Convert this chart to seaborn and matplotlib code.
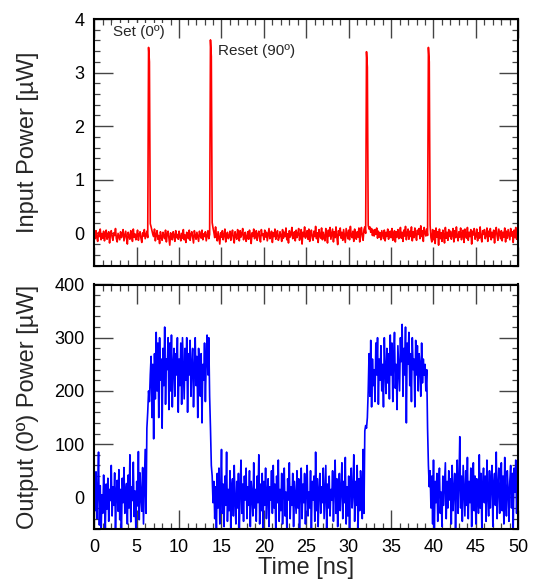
import numpy as np
import pandas as pd
import matplotlib
matplotlib.use("Agg")
import matplotlib.pyplot as plt
import seaborn as sns
from matplotlib.ticker import MultipleLocator

# ---------------- data (0.1 ns sampling) ----------------
t_start, t_stop, t_step = 0.0, 50.0, 0.1

input_power_uW = [
    -.02, -.10, .05, -.08, -.15, .02, -.06, .08, -.12, -.01,
    -.09, .04, -.14, -.03, .06, -.11, -.05, .03, -.18, -.02,
    .05, -.07, -.13, .01, -.04, .09, -.10, -.16, .00, -.06,
    -.12, .03, -.08, -.02, .07, -.14, -.05, .04, -.09, -.20,
    .02, -.06, -.11, .05, -.03, -.15, .08, -.07, -.01, -.12,
    -.04, .06, -.13, -.02, .03, -.09, -.17, .01, -.05, .07,
    -.10, -.03, .04, -.08, 3.47, 3.2, .18, .12, .05, -.02,
    -.06, .08, -.14, -.02, .05, -.11, -.04, -.19, .03, -.08,
    -.13, .02, -.05, -.10, .06, -.16, -.01, .04, -.09, -.22,
    .01, -.07, -.12, .03, -.04, -.15, .05, -.08, -.02, -.11,
    .04, -.06, -.14, .00, -.09, .07, -.12, -.03, -.17, .02,
    -.05, -.10, .06, -.13, -.02, .03, -.08, -.18, .05, -.04,
    -.11, .02, -.07, -.15, .04, -.03, -.09, .06, -.12, -.01,
    -.06, .03, -.14, -.04, .05, -.10, -.02, 3.61, 3.3, .20,
    .10, .02, -.08, .12, -.05, -.14, .03, -.09, -.20, .01,
    -.07, .05, -.12, -.03, .08, -.16, -.04, .02, -.10, -.06,
    .04, -.13, -.01, .06, -.09, -.18, .03, -.05, -.11, .07,
    -.02, -.14, .05, -.07, -.01, .09, -.12, -.04, .02, -.15,
    -.08, .03, -.11, .06, -.05, -.19, .01, -.06, .08, -.10,
    -.03, .05, -.13, -.02, .04, -.09, -.16, .07, -.04, -.01,
    -.12, .06, -.07, .02, -.14, -.03, .09, -.10, -.05, .04,
    -.17, .01, -.06, .08, -.11, -.02, .05, -.13, -.08, .03,
    -.04, -.15, .07, -.09, .02, -.06, .10, -.12, -.01, -.18,
    .05, -.07, -.02, .11, -.10, -.05, .03, -.14, .06, -.08,
    -.01, .09, -.13, -.04, .07, -.20, .02, -.06, .12, -.09,
    -.03, .05, -.11, .08, -.15, -.02, .06, -.08, -.13, .04,
    -.06, .13, -.10, .01, -.17, .07, -.04, -.09, .10, -.12,
    .02, -.07, -.14, .09, -.03, -.18, .06, -.05, .11, -.11,
    -.02, .08, -.16, .03, -.08, .12, -.06, -.21, .05, -.04,
    .10, -.09, .02, -.13, .07, -.05, -.17, .09, -.01, -.10,
    .06, -.12, .13, -.04, -.08, .04, -.15, .08, -.03, -.11,
    .03, -.07, .10, -.16, .01, .11, -.06, -.13, .07, .12,
    .00, 3.39, 3.1, .15, .08, .12, .02, .09, -.04, .06,
    -.05, .07, -.02, .10, -.09, .04, -.07, .01, -.12, .05,
    -.03, -.10, .06, -.14, .02, -.06, .08, -.11, -.02, .04,
    -.08, .09, -.13, -.01, .05, -.16, .03, -.07, .07, -.10,
    -.04, .11, -.09, .02, -.15, .06, -.05, .13, -.12, .00,
    .08, -.11, .04, -.06, .12, -.14, .03, -.08, .10, -.03,
    -.13, .06, -.02, .09, -.10, .14, -.06, .05, -.15, .11,
    .02, -.05, .08, -.04, 3.47, 3.2, .15, -.08, -.16, .07,
    -.12, .05, -.19, .10, -.07, .03, -.22, .08, -.10, .01,
    -.15, .06, -.04, -.18, .11, -.09, .02, -.13, .07, -.06,
    .04, -.11, -.02, .09, -.16, .05, -.08, .12, -.05, -.14,
    .03, -.07, .10, -.12, -.01, .06, -.17, .08, -.04, -.09,
    .11, -.13, .02, -.06, .07, -.20, .04, -.03, .09, -.11,
    -.05, .08, -.14, .01, -.09, .12, -.07, -.16, .05, -.02,
    .07, -.10, -.03, .10, -.15, .04, -.06, .09, -.12, .02,
    -.08, .06, -.18, .03, .11, -.05, -.13, .08, -.01, -.10,
    .05, -.14, .02, -.07, .10, -.16, .04, -.09, .07, -.03,
    -.12, .09, -.05, .03, -.17, .06, -.08, .11, -.11, .02,
    -.04,
]

output_power_uW = [
    30, -25, 48, -40, 12, 85, -52, 22, -68, 5,
    -30, 42, -12, -58, 25, -22, 36, -45, 15, -6,
    60, -35, 20, -15, 46, -62, 10, 32, -26, 52,
    -42, 15, -70, 36, -10, 56, -30, 6, 26, -50,
    42, -20, 80, -46, 20, -6, 66, -36, 12, -62,
    30, -16, 86, -42, 46, 0, -26, 56, -50, 20,
    90, -30, 130, 160, 200, 180, 230, 265, 150, 250,
    110, 270, 185, 310, 200, 290, 150, 300, 220, 260,
    130, 280, 210, 320, 175, 260, 240, 300, 165, 290,
    200, 305, 170, 250, 280, 190, 270, 230, 300, 160,
    260, 210, 290, 175, 300, 240, 185, 280, 220, 300,
    160, 270, 230, 295, 190, 250, 280, 170, 240, 300,
    210, 265, 150, 280, 230, 190, 270, 140, 250, 220,
    290, 180, 260, 305, 230, 300, 190, 130, 60, 40,
    -10, 30, -40, 20, -65, 45, -20, 55, -50, 10,
    90, -30, 25, -55, 40, -15, 85, -45, 15, -25,
    50, -60, 20, 35, -35, 60, -10, -50, 30, -20,
    45, -65, 15, 70, -30, 25, -45, 40, -5, 55,
    -40, 20, -15, 50, -55, 30, 5, -35, 65, -20,
    15, -45, 40, -10, 80, -50, 25, -25, 45, -60,
    30, -15, 55, -40, 10, 35, -55, 20, -5, 50,
    -30, 60, -20, 25, -65, 40, -10, 70, -45, 15,
    -25, 45, -50, 20, 55, -35, 10, -60, 35, -5,
    65, -40, 20, -15, 45, -55, 30, 0, -30, 50,
    -20, 35, -60, 15, 55, -40, 25, -10, 45, -50,
    20, 60, -35, 10, -20, 50, -65, 30, -5, 40,
    -45, 85, -25, 35, -55, 15, 45, -30, 20, -10,
    55, -40, 10, 60, -60, 25, -20, 40, -35, 15,
    -5, 50, -45, 20, 70, -30, 35, -55, 10, 45,
    -25, 15, 65, -40, 30, -10, 75, -50, 20, -35,
    40, -60, 25, 55, -20, 10, 80, -45, 30, -15,
    60, -70, 35, -25, 50, 10, -40, 90, -30, 125,
    135, 130, 150, 200, 270, 190, 295, 170, 260, 210,
    240, 180, 290, 230, 300, 175, 260, 220, 285, 200,
    250, 170, 300, 240, 195, 280, 215, 270, 185, 305,
    230, 290, 180, 260, 310, 205, 250, 165, 285, 240,
    200, 300, 255, 325, 190, 280, 230, 320, 140, 290,
    250, 310, 210, 270, 180, 300, 240, 260, 170, 295,
    230, 285, 200, 270, 250, 190, 290, 215, 260, 230,
    250, 200, 240, 130, 60, 20, 50, -20, 40, -50,
    70, -60, 30, -10, 45, -45, 20, 55, -30, 10,
    -55, 40, -15, 25, 65, -40, 30, -20, 50, -5,
    35, -50, 60, -25, 15, 45, -60, 20, 70, -30,
    25, 114, -20, 40, -45, 60, 10, -35, 50, -15,
    75, -40, 30, -10, 55, -55, 20, 65, -25, 40,
    -50, 35, 15, -30, 80, -20, 45, -60, 25, 55,
    -10, 40, -45, 70, 5, -35, 50, -20, 30, 60,
    -55, 25, 45, -15, 85, -40, 20, 55, -30, 10,
    65, -25, 40, -50, 75, 0, -35, 50, 15, -45,
    30, 60, -20, 45, -60, 55, 10, 70, -30, 40,
    65,
]

x_ticks = [0, 5, 10, 15, 20, 25, 30, 35, 40, 45, 50]
top_yticks = [0, 1, 2, 3, 4]
bottom_yticks = [0, 100, 200, 300, 400]
annotations = [("Set (0º)", 2.2, 3.76), ("Reset (90º)", 14.6, 3.40)]

n = len(output_power_uW)
time_ns = np.round(np.linspace(t_start, t_stop, n), 3)
df = pd.DataFrame({"time": time_ns, "inp": input_power_uW, "out": output_power_uW})

# ---------------- style ----------------
sns.set_style("ticks")
plt.rcParams["font.family"] = ["Liberation Sans", "DejaVu Sans"]

W, H = 534, 581
fig = plt.figure(figsize=(W / 100, H / 100), dpi=100)

def rect(l, t, r, b):
    return [l / W, 1 - b / H, (r - l) / W, (b - t) / H]

ax1 = fig.add_axes(rect(94.3, 19, 518.3, 265.5))
ax2 = fig.add_axes(rect(94.3, 284.5, 518.3, 529.3))

sns.lineplot(data=df, x="time", y="inp", ax=ax1, color="#ff0000", lw=1.2,
             estimator=None, sort=False)
sns.lineplot(data=df, x="time", y="out", ax=ax2, color="#0000ff", lw=1.2,
             estimator=None, sort=False)

for ax in (ax1, ax2):
    ax.set_xlim(0, 50)
    ax.set_xticks(x_ticks)
    ax.xaxis.set_minor_locator(MultipleLocator(1))
    ax.tick_params(which="both", direction="in", top=True, right=True,
                   colors="#444444", labelcolor="black", labelsize=13)
    ax.tick_params(which="major", length=13.5, width=1.0, pad=7)
    ax.tick_params(which="minor", length=4.5, width=0.9)
    for s in ax.spines.values():
        s.set_color("black")
        s.set_linewidth(1.5)
    ax.grid(False)

ax1.set_ylim(-0.6, 4)
ax1.set_yticks(top_yticks)
ax1.yaxis.set_minor_locator(MultipleLocator(0.2))
ax1.set_xticklabels([])
ax1.set_xlabel("")
ax1.set_ylabel("Input Power [µW]", fontsize=17)

ax2.set_ylim(-60, 400)
ax2.set_yticks(bottom_yticks)
ax2.yaxis.set_minor_locator(MultipleLocator(20))
ax2.set_xticklabels([str(v) for v in x_ticks])
ax2.set_xlabel("Time [ns]", fontsize=17, labelpad=1)
ax2.set_ylabel("Output (0º) Power [µW]", fontsize=17)

ax1.yaxis.set_label_coords(-0.13, 0.5)
ax2.yaxis.set_label_coords(-0.13, 0.5)

for txt, x, y in annotations:
    ax1.text(x, y, txt, fontsize=11, ha="left", va="center", zorder=5,
             bbox=dict(facecolor="white", edgecolor="none", pad=1.0))

fig.savefig("out.png", dpi=100)
